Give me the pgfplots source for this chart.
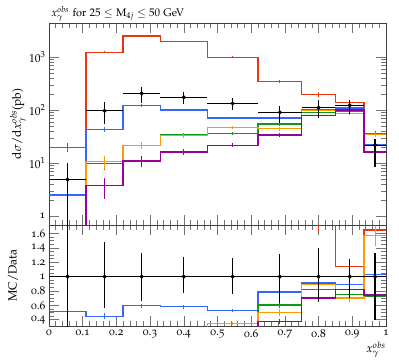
\documentclass[border=0pt]{standalone}
\usepackage[T1]{fontenc}
\usepackage[osf]{mathpazo}
\usepackage{pgfplots}
\pgfplotsset{compat=1.18}
\usepackage{pgfplotstable}

% rivet-style colours
\definecolor{mcred}{HTML}{EE3311}
\definecolor{mcblue}{HTML}{3366FF}
\definecolor{mcgreen}{HTML}{109618}
\definecolor{mcorange}{HTML}{FF9900}
\definecolor{mcpurple}{HTML}{990099}

% bin left edges, last row closes the histogram at x=1
\pgfplotstableread{
x     red   blue  green  orange purple
0.000 20    2.49  0.001  0.001  0.001
0.110 1230  43.2  9.87   10.6   3.73
0.220 2490  122   21.2   21.8   11.0
0.330 1980  101   35.2   33.2   16.3
0.470 990   70.6  35.7   46.5   21.8
0.620 347   71    54.5   45     34
0.750 200   101   91.5   99     78
0.850 140   109   92.8   86     101
0.935 36    22.5  15.8   34.2   16.2
1.000 36    22.5  15.8   34.2   16.2
}\mchist

% bin centres with MC uncertainties
\pgfplotstableread{
x      red  ered blue ebl  green egr orange eor purple epu
0.055  20   4    2.49 1.3  0.001 0   0.001  0   0.001  0
0.165  1230 60   43.2 4    9.87  2.5 10.6   3   3.73   1.6
0.275  2490 80   122  6    21.2  2.5 21.8   3   11.0   2.7
0.400  1980 60   101  5    35.2  2.5 33.2   3   16.3   2
0.545  990  40   70.6 3.5  35.7  2.5 46.5   3   21.8   2
0.685  347  20   71   4    54.5  4   45     4   34     3
0.800  200  20   101  6    91.5  5   99     6   78     5
0.8925 140  12   109  6    92.8  6   86     6   101    6
0.9675 36   4    22.5 2.5  15.8  1.5 34.2   3   16.2   2
}\mcerr

% data
\pgfplotstableread{
x      y     ex      eyp  eym
0.055  4.9   0.055   5.3  4.8
0.165  97    0.055   47   42
0.275  206   0.055   69   70
0.400  174   0.070   48   41
0.545  134   0.075   34   32
0.685  90.5  0.065   29   33
0.800  111   0.050   44   40
0.8925 123   0.0425  30   37
0.9675 21.8  0.0325  7.2  13.3
}\data

% MC/Data, bin left edges
\pgfplotstableread{
x     red   blue   green  orange purple
0.000 4.08  0.508  0      0      0
0.110 12.7  0.445  0.102  0.109  0.038
0.220 12.1  0.592  0.103  0.106  0.053
0.330 11.4  0.580  0.202  0.191  0.094
0.470 7.39  0.527  0.266  0.347  0.163
0.620 3.83  0.785  0.602  0.497  0.376
0.750 1.80  0.910  0.824  0.892  0.703
0.850 1.14  0.886  0.754  0.699  0.821
0.935 1.65  1.032  0.725  1.569  0.743
1.000 1.65  1.032  0.725  1.569  0.743
}\rhist

% MC/Data at bin centres with uncertainties
\pgfplotstableread{
x      red  ered blue  ebl   green egr   orange eor   purple epu
0.055  4.08 0.82 0.508 0.27  0     0     0      0     0      0
0.165  12.7 0.62 0.445 0.041 0.102 0.026 0.109  0.031 0.038  0.016
0.275  12.1 0.39 0.592 0.029 0.103 0.012 0.106  0.015 0.053  0.013
0.400  11.4 0.34 0.580 0.029 0.202 0.014 0.191  0.017 0.094  0.011
0.545  7.39 0.30 0.527 0.026 0.266 0.019 0.347  0.022 0.163  0.015
0.685  3.83 0.22 0.785 0.044 0.602 0.044 0.497  0.044 0.376  0.033
0.800  1.80 0.18 0.910 0.054 0.824 0.045 0.892  0.054 0.703  0.045
0.8925 1.14 0.10 0.886 0.049 0.754 0.049 0.699  0.049 0.821  0.049
0.9675 1.65 0.18 1.032 0.115 0.725 0.069 1.569  0.138 0.743  0.092
}\rerr

\pgfplotstableread{
x      y  ex      eyp   eym
0.055  1  0.055   1.08  0.98
0.165  1  0.055   0.488 0.432
0.275  1  0.055   0.335 0.339
0.400  1  0.070   0.276 0.236
0.545  1  0.075   0.254 0.239
0.685  1  0.065   0.32  0.365
0.800  1  0.050   0.396 0.36
0.8925 1  0.0425  0.244 0.30
0.9675 1  0.0325  0.33  0.61
}\rdata

\begin{document}
\begin{tikzpicture}
\pgfplotsset{
  rivet/.style={
    scale only axis, width=337pt,
    xmin=0, xmax=1,
    tick align=inside, major tick length=10pt, minor tick length=5pt,
    axis line style={black!75, line width=0.6pt},
    every tick/.style={black!55, line width=0.6pt},
    xtick={0,0.1,...,1.0}, minor x tick num=4,
    tick label style={font=\fontsize{11.5}{13}\selectfont},
    label style={font=\fontsize{12}{14}\selectfont},
  },
  hist/.style={const plot, line width=1.3pt, mark=none},
  mcbar/.style={draw=none, mark=none, forget plot,
    error bars/.cd, y dir=both, y explicit, error mark=none,
    error bar style={draw=#1, line width=1pt}},
  databar/.style={only marks, mark=*, mark size=1.9pt, black,
    error bars/.cd, x dir=both, x explicit, y dir=both, y explicit,
    error mark=none, error bar style={line width=1.3pt, black}},
}
\begin{axis}[rivet, name=main, height=202pt,
  ymode=log, ymin=0.68, ymax=4400,
  ytick={1,10,100,1000}, yticklabels={1,$10^1$,$10^2$,$10^3$},
  xticklabels={},
  ylabel={$\mathrm{d}\sigma/\mathrm{d}x_\gamma^{obs}$(pb)},
  ylabel style={at={(axis description cs:-0.092,0.5)}, anchor=center},
  title={$x_\gamma^{obs}$ for $25 \le \mathrm{M}_{4j} \le 50$ GeV},
  title style={font=\fontsize{11}{13}\selectfont, at={(axis description cs:0,1)},
    anchor=base west, inner xsep=0pt, xshift=2pt, yshift=0.5pt},
]
\addplot[hist, mcred]    table[x=x, y=red]    {\mchist};
\addplot[hist, mcblue]   table[x=x, y=blue]   {\mchist};
\addplot[hist, mcgreen]  table[x=x, y=green]  {\mchist};
\addplot[hist, mcorange] table[x=x, y=orange] {\mchist};
\addplot[hist, mcpurple] table[x=x, y=purple] {\mchist};
\addplot[mcbar=mcred]    table[x=x, y=red,    y error=ered] {\mcerr};
\addplot[mcbar=mcblue]   table[x=x, y=blue,   y error=ebl]  {\mcerr};
\addplot[mcbar=mcgreen]  table[x=x, y=green,  y error=egr]  {\mcerr};
\addplot[mcbar=mcorange] table[x=x, y=orange, y error=eor]  {\mcerr};
\addplot[mcbar=mcpurple] table[x=x, y=purple, y error=epu]  {\mcerr};
\addplot[databar] table[x=x, y=y, x error=ex, y error plus=eyp, y error minus=eym] {\data};
\end{axis}

\begin{axis}[rivet, name=ratio, height=101pt,
  at={(main.south west)}, anchor=north west,
  ymin=0.31, ymax=1.72,
  ytick={0.4,0.6,...,1.6}, minor y tick num=3,
  yticklabels={0.4,0.6,0.8,1,1.2,1.4,1.6},
  xticklabels={0,0.1,0.2,0.3,0.4,0.5,0.6,0.7,0.8,0.9,1},
  x tick label style={/pgf/number format/assume math mode=true},
  ylabel={MC/Data},
  ylabel style={at={(axis description cs:-0.107,0.5)}, anchor=center},
  xlabel={$x_\gamma^{obs}$},
  xlabel style={at={(axis description cs:1,0)}, anchor=north east, inner xsep=0pt, yshift=-12pt},
]
\addplot[hist, black, line width=1.3pt] coordinates {(0,1) (1,1)};
\addplot[hist, mcred]    table[x=x, y=red]    {\rhist};
\addplot[hist, mcblue]   table[x=x, y=blue]   {\rhist};
\addplot[hist, mcgreen]  table[x=x, y=green]  {\rhist};
\addplot[hist, mcorange] table[x=x, y=orange] {\rhist};
\addplot[hist, mcpurple] table[x=x, y=purple] {\rhist};
\addplot[mcbar=mcred]    table[x=x, y=red,    y error=ered] {\rerr};
\addplot[mcbar=mcblue]   table[x=x, y=blue,   y error=ebl]  {\rerr};
\addplot[mcbar=mcgreen]  table[x=x, y=green,  y error=egr]  {\rerr};
\addplot[mcbar=mcorange] table[x=x, y=orange, y error=eor]  {\rerr};
\addplot[mcbar=mcpurple] table[x=x, y=purple, y error=epu]  {\rerr};
\addplot[databar] table[x=x, y=y, x error=ex, y error plus=eyp, y error minus=eym] {\rdata};
\end{axis}
\pgfresetboundingbox
\path[use as bounding box] ([xshift=-49pt,yshift=23pt]main.north west)
  rectangle ([xshift=13pt,yshift=-34pt]ratio.south east);
\end{tikzpicture}
\end{document}
